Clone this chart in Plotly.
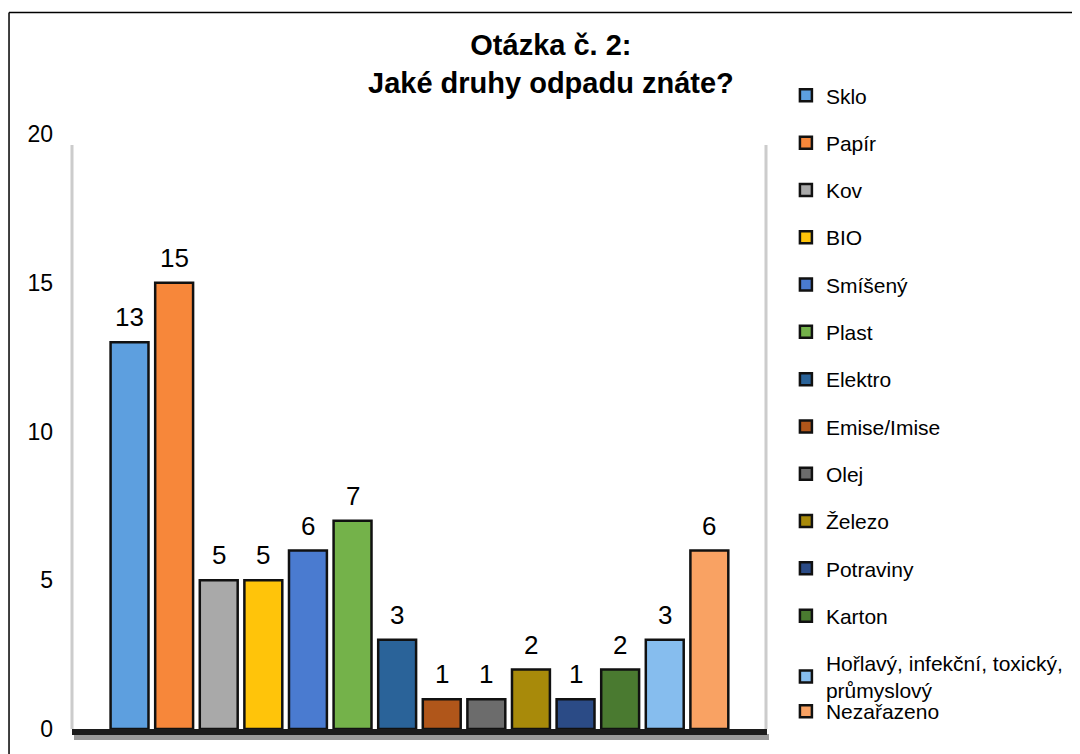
import plotly.graph_objects as go

categories = ["Sklo", "Papír", "Kov", "BIO", "Smíšený", "Plast", "Elektro",
              "Emise/Imise", "Olej", "Železo", "Potraviny", "Karton",
              "Hořlavý, infekční, toxický,<br>průmyslový", "Nezařazeno"]
values = [13, 15, 5, 5, 6, 7, 3, 1, 1, 2, 1, 2, 3, 6]
colors = ["#5d9fdf", "#f7873a", "#a9a9a9", "#ffc40a", "#4a7bd0", "#74b24a",
          "#2a6399", "#b0561a", "#6c6c6c", "#a88a0a", "#2b4b86", "#4a7a30",
          "#86bdee", "#f9a263"]
y_ticks = [0, 5, 10, 15, 20]

# page geometry (page pixels); the figure sits at an 8px body margin
OFF = 8
W, H = 1080 - OFF, 754 - OFF
L, R, T, B = 72 - OFF, 769 - OFF, 134 - OFF, 731 - OFF
pw, ph = R - L, B - T


def px(x):
    return (x - OFF - L) / pw


def py(y):
    return (B - (y - OFF)) / ph


FONT = "Liberation Sans, Arial"

fig = go.Figure()
n = len(categories)
for i, (c, v, col) in enumerate(zip(categories, values, colors)):
    fig.add_trace(go.Bar(
        x=[i], y=[v], name=c, legendgroup=c,
        marker=dict(color=col, line=dict(color="#111111", width=2.5)),
        legend="legend2" if i == n - 1 else "legend",
        hoverinfo="skip",
    ))

annotations = []
for i, v in enumerate(values):
    annotations.append(dict(x=i, y=v, xref="x", yref="y", text=str(v),
                            showarrow=False, yshift=25,
                            font=dict(size=26, color="#000000", family=FONT)))
annotations.append(dict(
    x=px(553), y=py(64), xref="paper", yref="paper",
    text="<b>Otázka č. 2:<br>Jaké druhy odpadu znáte?</b>",
    showarrow=False, xanchor="center", yanchor="middle",
    font=dict(size=29, color="#000000", family=FONT)))

shapes = [
    # outer frame (top & left visible)
    dict(type="line", xref="paper", yref="paper", x0=px(8.75), x1=px(1090),
         y0=py(12), y1=py(12), line=dict(color="#000000", width=1.5)),
    dict(type="line", xref="paper", yref="paper", x0=px(8.75), x1=px(8.75),
         y0=py(12), y1=py(770), line=dict(color="#000000", width=1.5)),
    # wall shadows
    dict(type="line", xref="paper", yref="paper", x0=px(72), x1=px(72),
         y0=py(145), y1=py(731), line=dict(color="#cccccc", width=3), layer="below"),
    dict(type="line", xref="paper", yref="paper", x0=px(769), x1=px(769),
         y0=py(145), y1=py(731), line=dict(color="#cccccc", width=3), layer="below"),
    # floor and its shadow
    dict(type="rect", xref="paper", yref="paper", x0=px(74), x1=px(772),
         y0=py(736), y1=py(742), fillcolor="#9a9a9a", line=dict(width=0)),
    dict(type="rect", xref="paper", yref="paper", x0=px(72), x1=px(770),
         y0=py(731), y1=py(737), fillcolor="#1c1c1c", line=dict(width=0)),
]

fig.update_layout(
    width=W, height=H,
    margin=dict(l=L, r=W - R, t=T, b=H - B),
    paper_bgcolor="#ffffff", plot_bgcolor="#ffffff",
    barmode="overlay", bargap=0.15,
    font=dict(family=FONT, color="#000000"),
    showlegend=True,
    legend=dict(x=px(789), y=py(75), xanchor="left", yanchor="top",
                traceorder="grouped", tracegroupgap=17, maxheight=720,
                font=dict(size=21), bgcolor="rgba(0,0,0,0)"),
    legend2=dict(x=px(789), y=py(693), xanchor="left", yanchor="top",
                 font=dict(size=21), bgcolor="rgba(0,0,0,0)"),
    xaxis=dict(range=[-1.29, 14.27], showticklabels=False, showgrid=False,
               zeroline=False, showline=False, ticks=""),
    yaxis=dict(range=[0, 20], tickvals=y_ticks, showgrid=False, zeroline=False,
               showline=False, ticks="", ticklabelstandoff=18,
               tickfont=dict(size=23)),
    annotations=annotations,
    shapes=shapes,
)

fig.write_html("out.html")
